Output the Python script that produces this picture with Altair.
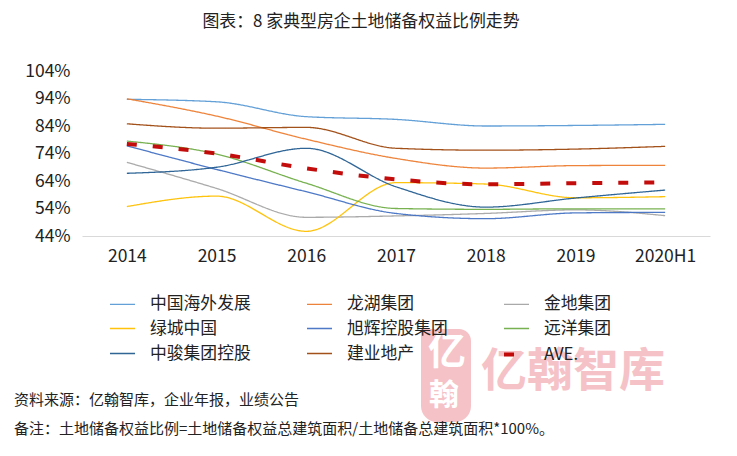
import altair as alt
import pandas as pd

FONT = "Noto Sans CJK SC"
years = ["2014", "2015", "2016", "2017", "2018", "2019", "2020H1"]
names = ["中国海外发展", "龙湖集团", "金地集团", "绿城中国", "旭辉控股集团", "远洋集团", "中骏集团控股", "建业地产", "AVE."]
colors = ["#5B9BD5", "#ED7D31", "#A5A5A5", "#FFC000", "#4472C4", "#70AD47", "#255E91", "#9E480E", "#C00000"]
dashes = [[1, 0]] * 8 + [[10, 16]]
widths = [1.3] * 8 + [4]

zhonghai = [93.7, 92.8, 87.4, 86.4, 84.0, 84.2, 84.6]
longhu = [93.9, 87.6, 79.2, 72.2, 68.7, 69.6, 69.7]
jindi = [70.8, 61.3, 50.8, 51.3, 52.2, 53.5, 51.4]
lvcheng = [54.7, 58.5, 45.7, 63.4, 62.9, 57.9, 58.3]
xuhui = [76.8, 68.2, 60.1, 52.2, 50.3, 52.4, 52.6]
yuanyang = [78.5, 73.8, 63.2, 54.0, 53.7, 53.9, 53.9]
zhongjun = [66.8, 69.0, 75.9, 61.9, 54.5, 57.8, 60.7]
jianye = [84.8, 83.2, 83.5, 75.9, 75.2, 75.6, 76.6]
ave = [77.5, 74.0, 68.6, 64.6, 62.8, 63.2, 63.5]
series = [zhonghai, longhu, jindi, lvcheng, xuhui, yuanyang, zhongjun, jianye, ave]

df = pd.DataFrame(
    [{"year": y, "name": n, "value": v} for n, s in zip(names, series) for y, v in zip(years, s)]
)

x = alt.X("year:N", sort=years, title=None, scale=alt.Scale(domain=years),
          axis=alt.Axis(labelAngle=0, labelFontSize=17.5, labelColor="#222222", labelFont=FONT,
                        domainColor="#D9D9D9", ticks=False, grid=False, labelPadding=11))
y = alt.Y("value:Q", title=None, scale=alt.Scale(domain=[44, 104], nice=False, zero=False),
          axis=alt.Axis(values=[44, 54, 64, 74, 84, 94, 104], labelExpr="datum.value + '%'",
                        labelFontSize=17.5, labelColor="#222222", labelFont=FONT,
                        domain=False, ticks=False, grid=False, labelPadding=12))

legend = alt.Legend(
    title=None, orient="none", legendX=26, legendY=219, columns=3, direction="horizontal", gridAlign="all",
    columnPadding=48, rowPadding=1, symbolType="stroke", symbolSize=625,
    labelFontSize=16.8, labelFont=FONT, labelColor="#222222", labelOffset=13, labelLimit=120,
)
color = alt.Color("name:N", sort=names, scale=alt.Scale(domain=names, range=colors), legend=legend)
dash = alt.StrokeDash("name:N", sort=names, scale=alt.Scale(domain=names, range=dashes), legend=legend)
weight = alt.StrokeWidth("name:N", sort=names,
                         scale=alt.Scale(type="ordinal", domain=names, range=widths), legend=legend)

all_lines = alt.Chart(df).mark_line(interpolate="monotone", opacity=0.95).encode(
    x=x, y=y, color=color, strokeDash=dash, strokeWidth=weight
)


def note(text, px, py, size, color="#222222", weight="normal", align="left"):
    return alt.Chart(pd.DataFrame({"t": [text]})).mark_text(
        align=align, baseline="middle", font=FONT, fontSize=size, color=color, fontWeight=weight
    ).encode(x=alt.value(px), y=alt.value(py), text="t:N")


logo = alt.Chart(pd.DataFrame({"k": ["logo"]})).mark_rect(
    color="#F5C2C7", cornerRadiusTopRight=12, cornerRadiusBottomLeft=16, cornerRadiusBottomRight=16
).encode(x=alt.value(339), x2=alt.value(389), y=alt.value(258), y2=alt.value(351))

layers = [
    all_lines,
    logo,
    note("亿", 365, 282, 38, "#FFFFFF", "bold", "center"),
    note("翰", 362, 325, 30, "#FFFFFF", "bold", "center"),
    note("亿翰智库", 399, 301, 46, "#F5C2C7", "bold"),
    note("资料来源：亿翰智库，企业年报，业绩公告", -68, 329, 15),
    note("备注：土地储备权益比例=土地储备权益总建筑面积/土地储备总建筑面积*100%。", -68, 358, 15),
]

chart = alt.layer(*layers).properties(
    width=628, height=165,
    title=alt.TitleParams("图表：8 家典型房企土地储备权益比例走势", font=FONT, fontSize=16.9,
                          fontWeight="normal", color="#222222", anchor="middle", dx=-35, offset=31),
    autosize=alt.AutoSizeParams(type="none"),
    padding={"left": 74, "top": 63, "right": 19, "bottom": 204},
).configure_view(stroke=None)

chart.save("out.html", embed_options={"renderer": "svg", "actions": False})
